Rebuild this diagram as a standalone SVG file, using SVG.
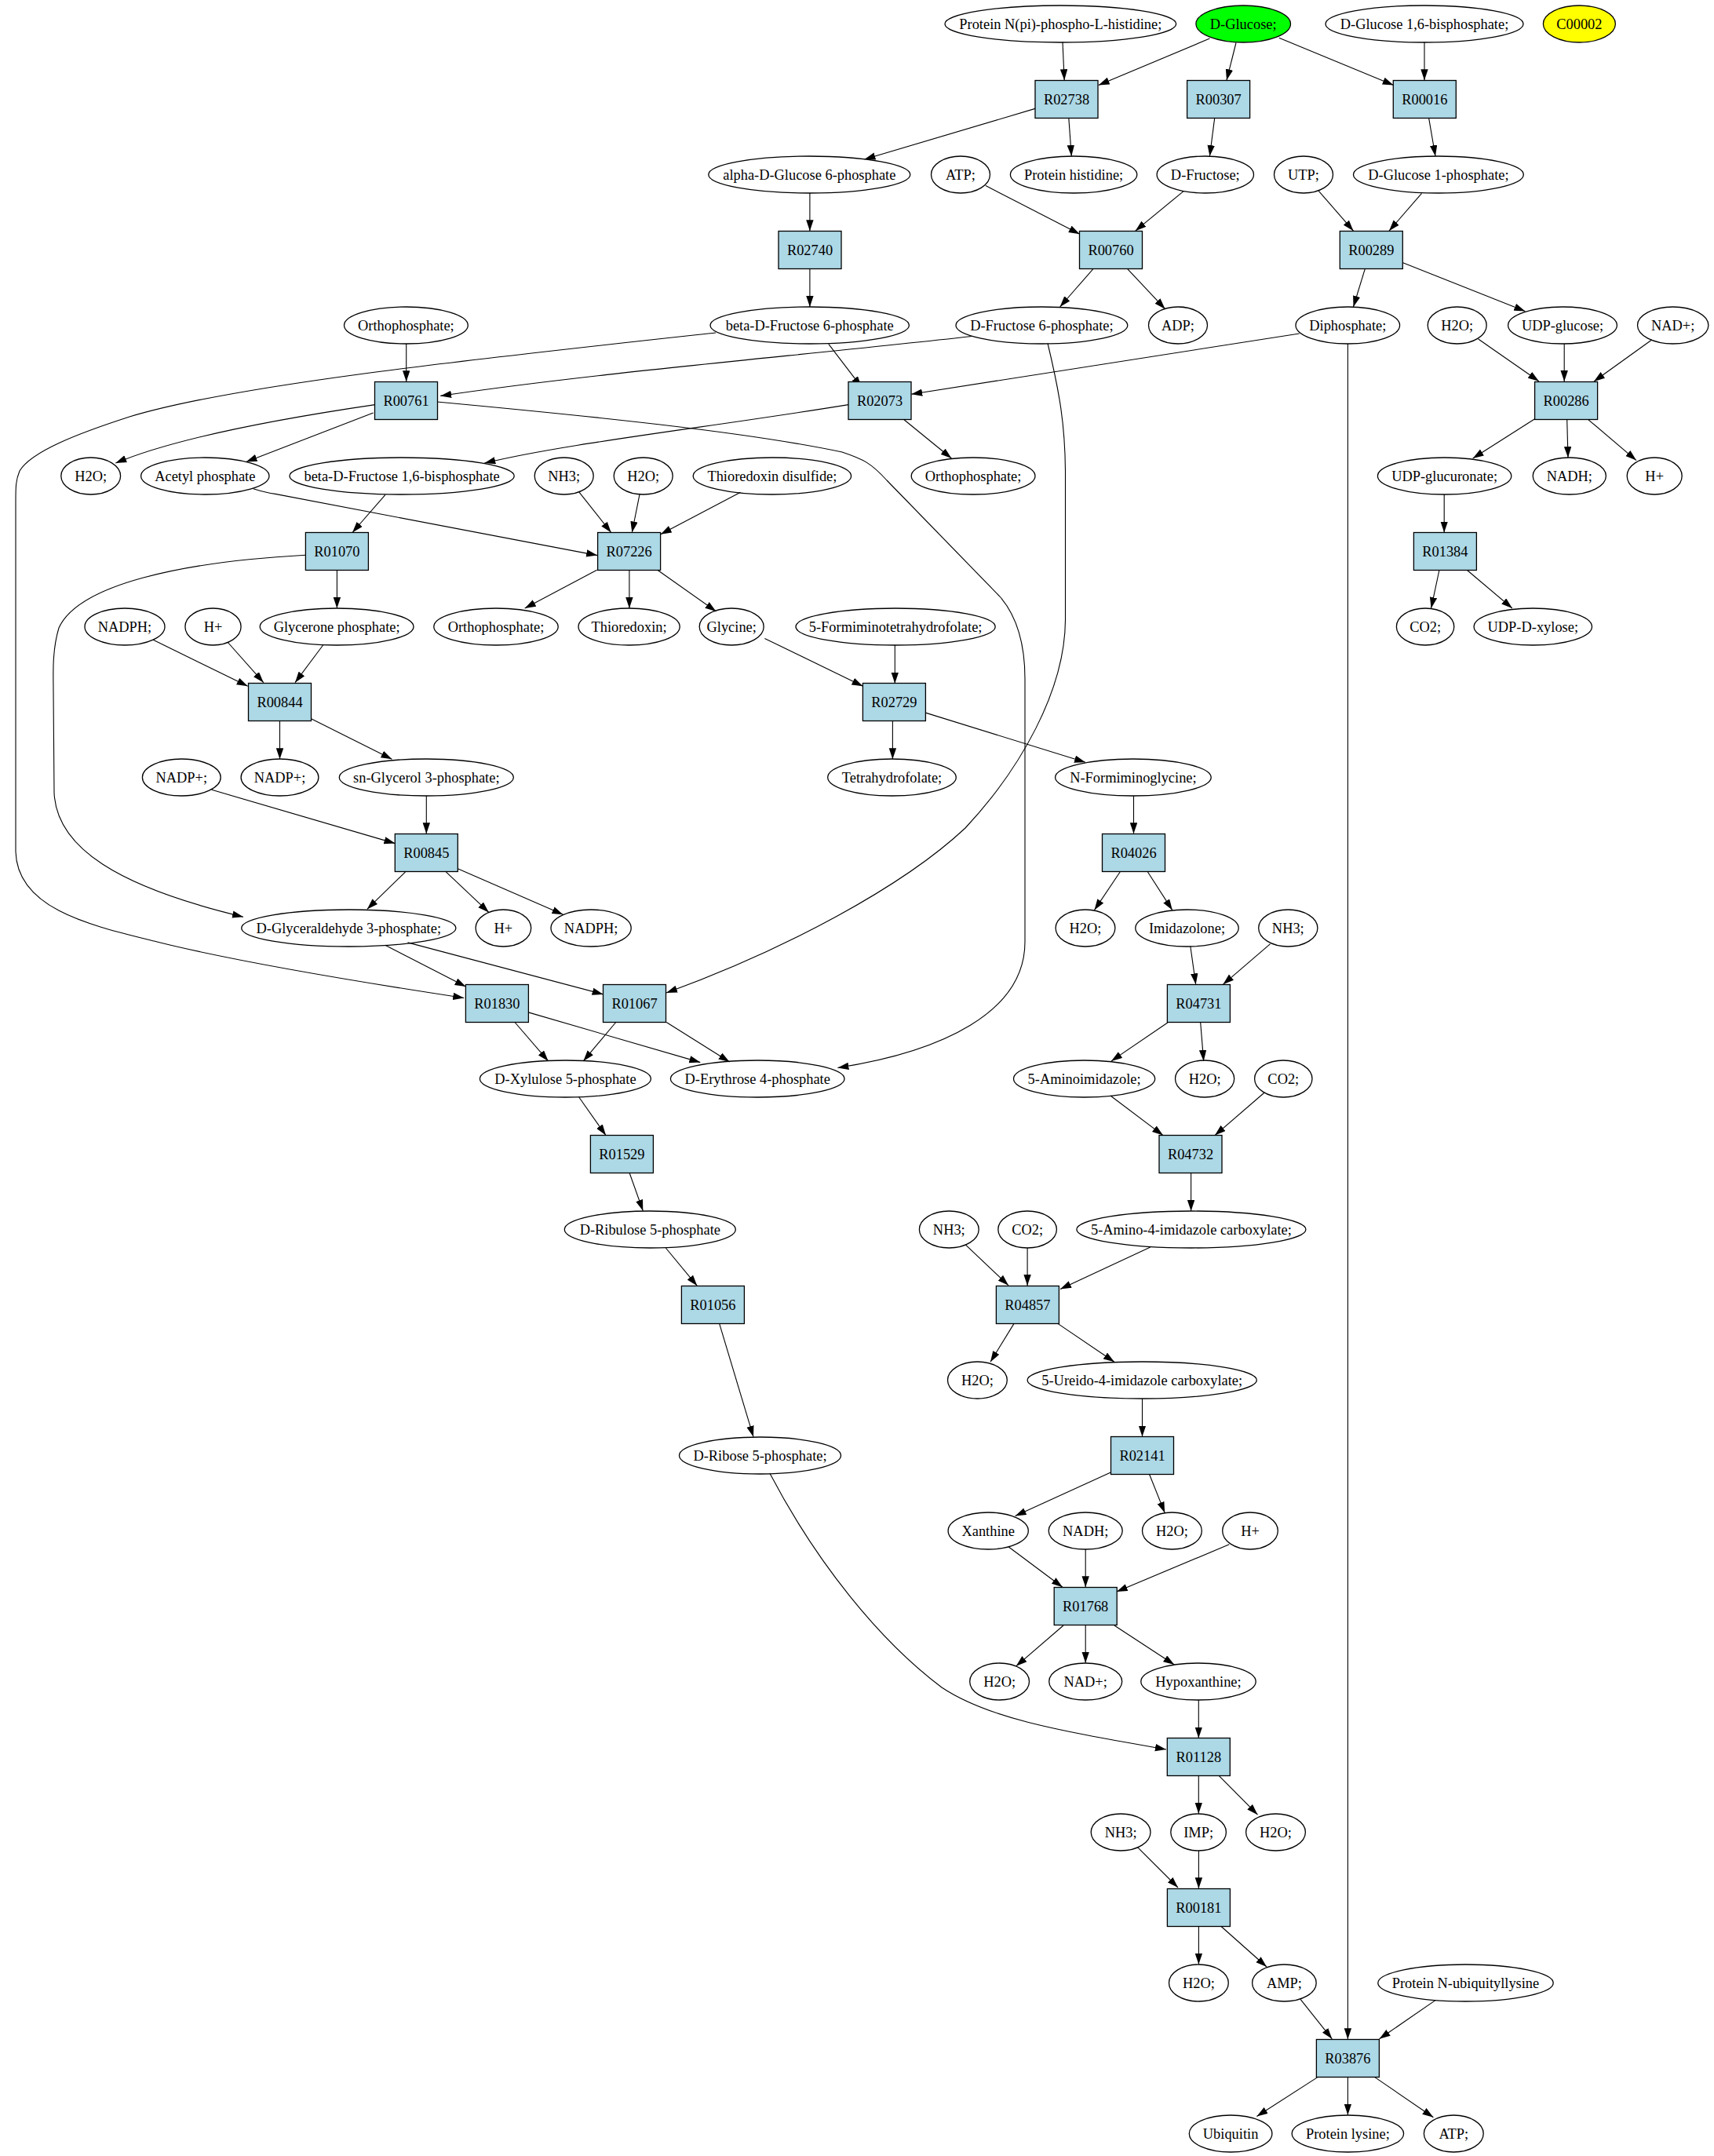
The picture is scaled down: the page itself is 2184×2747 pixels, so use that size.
<svg xmlns="http://www.w3.org/2000/svg" width="2184" height="2747" viewBox="0 0 2184 2747">
<defs>
<marker id="ah" markerUnits="userSpaceOnUse" markerWidth="15" markerHeight="10" refX="14" refY="4.7" orient="auto"><path d="M0,0 L14,4.7 L0,9.4 Z" fill="#000"/></marker>
<style>
.e{fill:none;stroke:#000;stroke-width:1.3}
.b{fill:#add8e6;stroke:#000;stroke-width:1.3}
text{font-family:"Liberation Serif","Times New Roman",serif;font-size:18.4px;text-anchor:middle;fill:#000}
#edges path{fill:none;stroke:#000;stroke-width:1.1;marker-end:url(#ah)}
</style>
</defs>
<rect width="2184" height="2747" fill="#fff"/>
<g id="edges">
<path d="M1354,53.6 L1356.2,102.2"/>
<path d="M1541.4,49.1 L1399.7,108.5"/>
<path d="M1575,54.5 L1563,102.2"/>
<path d="M1629.8,48.2 L1775.7,108.5"/>
<path d="M1815,53.6 L1815,102.2"/>
<path d="M1319,138.4 L1101.5,203"/>
<path d="M1361.8,150.4 L1365.3,199"/>
<path d="M1547.7,150.4 L1541.4,199"/>
<path d="M1820.6,150.4 L1829,199"/>
<path d="M1031.9,246 L1031.9,294.2"/>
<path d="M1255.9,236.6 L1375.8,298.2"/>
<path d="M1508.4,243.3 L1446.7,294.2"/>
<path d="M1680.3,243.3 L1724.5,294.2"/>
<path d="M1811.5,246.4 L1770,294.2"/>
<path d="M1031.9,342.8 L1031.9,391"/>
<path d="M1392.7,342.8 L1350.6,391"/>
<path d="M1436.9,342.8 L1484.6,393.7"/>
<path d="M1739.2,342.8 L1724.5,391"/>
<path d="M1787.6,334.8 L1943.3,396.4"/>
<path d="M517.7,438 L517.7,486.3"/>
<path d="M1055.8,438.4 L1097.8,493.3"/>
<path d="M1238.3,428.5 C1000,455 760,475 561.2,504.4"/>
<path d="M1655.7,425 L1161.2,502.2"/>
<path d="M1717.4,438 L1717.4,2598.3"/>
<path d="M1883.7,432 L1960.9,485.7"/>
<path d="M1993.2,438 L1993.2,486"/>
<path d="M2104.7,433 L2031,486"/>
<path d="M1956,533.5 L1876.7,584"/>
<path d="M1996.7,534.5 L1998,583"/>
<path d="M2024,534.8 L2085,586.6"/>
<path d="M1840.2,630 L1840.2,678.5"/>
<path d="M1152,534.8 L1212.4,584"/>
<path d="M477.7,515.6 C380,530 230,555 147.3,590.1"/>
<path d="M475.6,525.9 L313.6,588.4"/>
<path d="M557,512 C750,530 950,550 1073,576 C1100,585 1110,590 1130,612 L1274,760 C1300,790 1306,830 1306,865 L1306,1200 C1306,1290 1200,1340 1067.4,1360.5"/>
<path d="M1081,515.6 C900,545 720,565 617.3,590.1"/>
<path d="M491,630.3 L449,678.5"/>
<path d="M322.7,622.7 Q340,628 350.8,629.4 L761.1,707.6"/>
<path d="M738,627.2 L778.7,678.5"/>
<path d="M815.1,629.4 L805.3,678.5"/>
<path d="M943.5,627.2 L841.8,680.8"/>
<path d="M912,424 C600,458 300,490 165,531 C100,552 40,575 25,600 C20,612 20,620 20,640 L20,1085 C22,1160 120,1180 200,1200 C300,1225 450,1250 591.2,1271.5"/>
<path d="M429.4,726.5 L429.4,775"/>
<path d="M389.2,707.2 C230,716 100,745 75,800 C66,830 68,860 68,880 L69,1010 C72,1080 150,1130 310,1168.2"/>
<path d="M760.6,726.2 L668.7,775"/>
<path d="M801.9,726.5 L801.9,775"/>
<path d="M837.8,726.2 L912.4,779"/>
<path d="M195.2,815.2 L315.7,874.3"/>
<path d="M289.9,818 L335.8,869.7"/>
<path d="M411.6,822 L376,869.7"/>
<path d="M356.5,918.5 L356.5,967.3"/>
<path d="M396,915.6 L499.4,967.3"/>
<path d="M269.8,1006.3 L503.4,1074.6"/>
<path d="M543.3,1014 L543.3,1062.3"/>
<path d="M516.6,1110.8 L467.8,1158.4"/>
<path d="M568.3,1110.8 L622.8,1162.4"/>
<path d="M583.2,1106.8 L717.5,1165.3"/>
<path d="M974.4,813.4 L1099.5,874.3"/>
<path d="M1140.3,822 L1140.3,870.8"/>
<path d="M1137.4,918.5 L1137.4,967.3"/>
<path d="M1179.3,908.1 L1383,971.3"/>
<path d="M1444.5,1014 L1444.5,1062.3"/>
<path d="M1427.3,1110.8 L1394.5,1159.6"/>
<path d="M1462.3,1110.8 L1493.8,1159.6"/>
<path d="M1516.8,1205.5 L1523.7,1254.3"/>
<path d="M1618.6,1202.6 L1558.4,1254.3"/>
<path d="M1833.9,726.5 L1823.6,775"/>
<path d="M1869.5,726.5 L1926.9,775"/>
<path d="M490.8,1204.3 L593.5,1257.1"/>
<path d="M519.5,1200.9 L768.6,1266.9"/>
<path d="M1335,437.5 C1350,500 1357,540 1357.5,600 L1357.5,790 C1357,880 1300,980 1230,1055 C1150,1130 1000,1210 849,1265"/>
<path d="M656,1302.5 L698.6,1351.9"/>
<path d="M673.3,1289.9 L892.3,1353.6"/>
<path d="M784.7,1302.5 L743.3,1351.9"/>
<path d="M849.2,1302.5 L929.6,1353"/>
<path d="M1487.8,1303 L1416,1351.9"/>
<path d="M1529.7,1303 L1533.7,1351.9"/>
<path d="M737.6,1397.8 L772,1446.6"/>
<path d="M1414.9,1396 L1482,1446.6"/>
<path d="M1611.2,1392 L1548,1446.6"/>
<path d="M802.3,1495 L819.3,1542.7"/>
<path d="M1517.6,1494.5 L1517.6,1543"/>
<path d="M848.3,1590 L888.3,1638.3"/>
<path d="M1230.5,1586.1 L1285,1637.8"/>
<path d="M1309.1,1590 L1309.1,1638"/>
<path d="M1465.8,1589 L1351,1642.4"/>
<path d="M916.7,1686.7 L960,1830.7"/>
<path d="M1291.9,1686.6 L1262,1735.3"/>
<path d="M1348.2,1686.6 L1419.9,1735.3"/>
<path d="M1455.5,1782 L1455.5,1830.5"/>
<path d="M1415.3,1876 L1293.6,1931.6"/>
<path d="M1464.7,1878.8 L1484.2,1927.6"/>
<path d="M1285,1970.7 L1353.9,2022.3"/>
<path d="M1383.2,1974 L1383.2,2022.3"/>
<path d="M1566.3,1967.8 L1422.8,2028"/>
<path d="M1355,2071 L1294.8,2122.8"/>
<path d="M1383.2,2071 L1383.2,2118.8"/>
<path d="M1419.9,2071 L1496.3,2121"/>
<path d="M1527.3,2166 L1527.3,2214.5"/>
<path d="M980.8,1877.1 C1040,1990 1120,2090 1200,2150 C1260,2190 1350,2205 1485.9,2229"/>
<path d="M1527.3,2262.5 L1527.3,2310.8"/>
<path d="M1553.1,2262.3 L1602.5,2312.2"/>
<path d="M1449.3,2353.3 L1501,2405"/>
<path d="M1527.4,2358 L1527.4,2406.3"/>
<path d="M1527.4,2454.5 L1527.4,2502.8"/>
<path d="M1555.5,2454 L1614,2506"/>
<path d="M1657.1,2547.3 L1697.3,2597.8"/>
<path d="M1829.3,2548.4 L1757.6,2597.8"/>
<path d="M1678.9,2646.6 L1601.4,2696.5"/>
<path d="M1717.4,2646.6 L1717.4,2694.7"/>
<path d="M1751.8,2646.6 L1826.4,2697.7"/>
</g>
<g id="n_protnpi"><ellipse class="e" cx="1351.3" cy="30.5" rx="147.3" ry="23.5"/><text x="1351.3" y="37">Protein N(pi)-phospho-L-histidine;</text></g>
<g id="n_dglucose"><ellipse class="e" cx="1584.2" cy="30.5" rx="60.3" ry="23.5" style="fill:#00ff00"/><text x="1584.2" y="37">D-Glucose;</text></g>
<g id="n_dg16bp"><ellipse class="e" cx="1815" cy="30.5" rx="126" ry="23.5"/><text x="1815" y="37">D-Glucose 1,6-bisphosphate;</text></g>
<g id="n_c00002"><ellipse class="e" cx="2012.4" cy="30.5" rx="46" ry="23.5" style="fill:#ffff00"/><text x="2012.4" y="37">C00002</text></g>
<g id="r_R02738"><rect class="b" x="1319" y="102.5" width="80" height="48"/><text x="1359" y="133">R02738</text></g>
<g id="r_R00307"><rect class="b" x="1512.6" y="102.5" width="80" height="48"/><text x="1552.6" y="133">R00307</text></g>
<g id="r_R00016"><rect class="b" x="1775.3" y="102.5" width="80" height="48"/><text x="1815.3" y="133">R00016</text></g>
<g id="n_ag6p"><ellipse class="e" cx="1031.3" cy="222.5" rx="128.5" ry="23.5"/><text x="1031.3" y="229">alpha-D-Glucose 6-phosphate</text></g>
<g id="n_atp1"><ellipse class="e" cx="1224" cy="222.5" rx="37.5" ry="23.5"/><text x="1224" y="229">ATP;</text></g>
<g id="n_prothis"><ellipse class="e" cx="1368.1" cy="222.5" rx="80.7" ry="23.5"/><text x="1368.1" y="229">Protein histidine;</text></g>
<g id="n_dfru"><ellipse class="e" cx="1535.8" cy="222.5" rx="61.7" ry="23.5"/><text x="1535.8" y="229">D-Fructose;</text></g>
<g id="n_utp"><ellipse class="e" cx="1661" cy="222.5" rx="37.5" ry="23.5"/><text x="1661" y="229">UTP;</text></g>
<g id="n_dg1p"><ellipse class="e" cx="1832.9" cy="222.5" rx="108.4" ry="23.5"/><text x="1832.9" y="229">D-Glucose 1-phosphate;</text></g>
<g id="r_R02740"><rect class="b" x="992" y="294.5" width="80" height="48"/><text x="1032" y="325">R02740</text></g>
<g id="r_R00760"><rect class="b" x="1375.5" y="294.5" width="80" height="48"/><text x="1415.5" y="325">R00760</text></g>
<g id="r_R00289"><rect class="b" x="1707.3" y="294.5" width="80" height="48"/><text x="1747.3" y="325">R00289</text></g>
<g id="n_orth1"><ellipse class="e" cx="517.4" cy="414.5" rx="78.9" ry="23.5"/><text x="517.4" y="421">Orthophosphate;</text></g>
<g id="n_bf6p"><ellipse class="e" cx="1031.7" cy="414.5" rx="126.7" ry="23.5"/><text x="1031.7" y="421">beta-D-Fructose 6-phosphate</text></g>
<g id="n_df6p"><ellipse class="e" cx="1327.4" cy="414.5" rx="109.4" ry="23.5"/><text x="1327.4" y="421">D-Fructose 6-phosphate;</text></g>
<g id="n_adp"><ellipse class="e" cx="1501" cy="414.5" rx="37.5" ry="23.5"/><text x="1501" y="421">ADP;</text></g>
<g id="n_diph"><ellipse class="e" cx="1717.3" cy="414.5" rx="66.3" ry="23.5"/><text x="1717.3" y="421">Diphosphate;</text></g>
<g id="n_h2o1"><ellipse class="e" cx="1856.7" cy="414.5" rx="37.5" ry="23.5"/><text x="1856.7" y="421">H2O;</text></g>
<g id="n_udpg"><ellipse class="e" cx="1991" cy="414.5" rx="69.4" ry="23.5"/><text x="1991" y="421">UDP-glucose;</text></g>
<g id="n_nad1"><ellipse class="e" cx="2131.7" cy="414.5" rx="45.2" ry="23.5"/><text x="2131.7" y="421">NAD+;</text></g>
<g id="r_R00761"><rect class="b" x="477.5" y="486.5" width="80" height="48"/><text x="517.5" y="517">R00761</text></g>
<g id="r_R02073"><rect class="b" x="1081" y="486.5" width="80" height="48"/><text x="1121" y="517">R02073</text></g>
<g id="r_R00286"><rect class="b" x="1955.6" y="486.5" width="80" height="48"/><text x="1995.6" y="517">R00286</text></g>
<g id="n_h2o2"><ellipse class="e" cx="115.7" cy="606.5" rx="37.9" ry="23.5"/><text x="115.7" y="613">H2O;</text></g>
<g id="n_acp"><ellipse class="e" cx="261.3" cy="606.5" rx="81.7" ry="23.5"/><text x="261.3" y="613">Acetyl phosphate</text></g>
<g id="n_bf16bp"><ellipse class="e" cx="512.1" cy="606.5" rx="143.1" ry="23.5"/><text x="512.1" y="613">beta-D-Fructose 1,6-bisphosphate</text></g>
<g id="n_nh3_1"><ellipse class="e" cx="718.7" cy="606.5" rx="37.5" ry="23.5"/><text x="718.7" y="613">NH3;</text></g>
<g id="n_h2o3"><ellipse class="e" cx="819.7" cy="606.5" rx="37.5" ry="23.5"/><text x="819.7" y="613">H2O;</text></g>
<g id="n_trxss"><ellipse class="e" cx="983.9" cy="606.5" rx="100.7" ry="23.5"/><text x="983.9" y="613">Thioredoxin disulfide;</text></g>
<g id="n_orth2"><ellipse class="e" cx="1240.1" cy="606.5" rx="78.9" ry="23.5"/><text x="1240.1" y="613">Orthophosphate;</text></g>
<g id="n_udpglcA"><ellipse class="e" cx="1840.6" cy="606.5" rx="85.2" ry="23.5"/><text x="1840.6" y="613">UDP-glucuronate;</text></g>
<g id="n_nadh1"><ellipse class="e" cx="1999.8" cy="606.5" rx="46.6" ry="23.5"/><text x="1999.8" y="613">NADH;</text></g>
<g id="n_hplus1"><ellipse class="e" cx="2108.2" cy="606.5" rx="35" ry="23.5"/><text x="2108.2" y="613">H+</text></g>
<g id="r_R01070"><rect class="b" x="389.4" y="678.5" width="80" height="48"/><text x="429.4" y="709">R01070</text></g>
<g id="r_R07226"><rect class="b" x="761.6" y="678.5" width="80" height="48"/><text x="801.6" y="709">R07226</text></g>
<g id="r_R01384"><rect class="b" x="1801.4" y="678.5" width="80" height="48"/><text x="1841.4" y="709">R01384</text></g>
<g id="n_nadph1"><ellipse class="e" cx="159" cy="798.5" rx="51" ry="23.5"/><text x="159" y="805">NADPH;</text></g>
<g id="n_hplus2"><ellipse class="e" cx="271.5" cy="798.5" rx="35.6" ry="23.5"/><text x="271.5" y="805">H+</text></g>
<g id="n_dhap"><ellipse class="e" cx="429.1" cy="798.5" rx="97.9" ry="23.5"/><text x="429.1" y="805">Glycerone phosphate;</text></g>
<g id="n_orth3"><ellipse class="e" cx="632" cy="798.5" rx="79.2" ry="23.5"/><text x="632" y="805">Orthophosphate;</text></g>
<g id="n_trx"><ellipse class="e" cx="801.6" cy="798.5" rx="64.6" ry="23.5"/><text x="801.6" y="805">Thioredoxin;</text></g>
<g id="n_gly"><ellipse class="e" cx="932.2" cy="798.5" rx="41" ry="23.5"/><text x="932.2" y="805">Glycine;</text></g>
<g id="n_5fthf"><ellipse class="e" cx="1141.1" cy="798.5" rx="127.1" ry="23.5"/><text x="1141.1" y="805">5-Formiminotetrahydrofolate;</text></g>
<g id="n_co2_1"><ellipse class="e" cx="1816.1" cy="798.5" rx="36.7" ry="23.5"/><text x="1816.1" y="805">CO2;</text></g>
<g id="n_udpxyl"><ellipse class="e" cx="1953.3" cy="798.5" rx="75.2" ry="23.5"/><text x="1953.3" y="805">UDP-D-xylose;</text></g>
<g id="r_R00844"><rect class="b" x="316.5" y="870.5" width="80" height="48"/><text x="356.5" y="901">R00844</text></g>
<g id="r_R02729"><rect class="b" x="1099.4" y="870.5" width="80" height="48"/><text x="1139.4" y="901">R02729</text></g>
<g id="n_nadp1"><ellipse class="e" cx="231.3" cy="990.5" rx="49.9" ry="23.5"/><text x="231.3" y="997">NADP+;</text></g>
<g id="n_nadp2"><ellipse class="e" cx="356.5" cy="990.5" rx="49.4" ry="23.5"/><text x="356.5" y="997">NADP+;</text></g>
<g id="n_g3p"><ellipse class="e" cx="543.3" cy="990.5" rx="111" ry="23.5"/><text x="543.3" y="997">sn-Glycerol 3-phosphate;</text></g>
<g id="n_thf"><ellipse class="e" cx="1136.5" cy="990.5" rx="81.8" ry="23.5"/><text x="1136.5" y="997">Tetrahydrofolate;</text></g>
<g id="n_fig"><ellipse class="e" cx="1443.9" cy="990.5" rx="99.3" ry="23.5"/><text x="1443.9" y="997">N-Formiminoglycine;</text></g>
<g id="r_R00845"><rect class="b" x="503.3" y="1062.5" width="80" height="48"/><text x="543.3" y="1093">R00845</text></g>
<g id="r_R04026"><rect class="b" x="1404.5" y="1062.5" width="80" height="48"/><text x="1444.5" y="1093">R04026</text></g>
<g id="n_gap"><ellipse class="e" cx="444.3" cy="1182.5" rx="136.6" ry="23.5"/><text x="444.3" y="1189">D-Glyceraldehyde 3-phosphate;</text></g>
<g id="n_hplus3"><ellipse class="e" cx="641.4" cy="1182.5" rx="35.3" ry="23.5"/><text x="641.4" y="1189">H+</text></g>
<g id="n_nadph2"><ellipse class="e" cx="753.1" cy="1182.5" rx="51.1" ry="23.5"/><text x="753.1" y="1189">NADPH;</text></g>
<g id="n_h2o4"><ellipse class="e" cx="1383" cy="1182.5" rx="37.9" ry="23.5"/><text x="1383" y="1189">H2O;</text></g>
<g id="n_imz"><ellipse class="e" cx="1512.5" cy="1182.5" rx="65.7" ry="23.5"/><text x="1512.5" y="1189">Imidazolone;</text></g>
<g id="n_nh3_2"><ellipse class="e" cx="1641.3" cy="1182.5" rx="37.6" ry="23.5"/><text x="1641.3" y="1189">NH3;</text></g>
<g id="r_R01830"><rect class="b" x="593.4" y="1254.5" width="80" height="48"/><text x="633.4" y="1285">R01830</text></g>
<g id="r_R01067"><rect class="b" x="768.5" y="1254.5" width="80" height="48"/><text x="808.5" y="1285">R01067</text></g>
<g id="r_R04731"><rect class="b" x="1487.4" y="1254.5" width="80" height="48"/><text x="1527.4" y="1285">R04731</text></g>
<g id="n_xu5p"><ellipse class="e" cx="720.4" cy="1374.5" rx="109" ry="23.5"/><text x="720.4" y="1381">D-Xylulose 5-phosphate</text></g>
<g id="n_e4p"><ellipse class="e" cx="965.2" cy="1374.5" rx="110.8" ry="23.5"/><text x="965.2" y="1381">D-Erythrose 4-phosphate</text></g>
<g id="n_aim"><ellipse class="e" cx="1381.6" cy="1374.5" rx="90.1" ry="23.5"/><text x="1381.6" y="1381">5-Aminoimidazole;</text></g>
<g id="n_h2o5"><ellipse class="e" cx="1535.1" cy="1374.5" rx="37.6" ry="23.5"/><text x="1535.1" y="1381">H2O;</text></g>
<g id="n_co2_2"><ellipse class="e" cx="1635.3" cy="1374.5" rx="36.7" ry="23.5"/><text x="1635.3" y="1381">CO2;</text></g>
<g id="r_R01529"><rect class="b" x="752.4" y="1446.5" width="80" height="48"/><text x="792.4" y="1477">R01529</text></g>
<g id="r_R04732"><rect class="b" x="1477" y="1446.5" width="80" height="48"/><text x="1517" y="1477">R04732</text></g>
<g id="n_ru5p"><ellipse class="e" cx="828.3" cy="1566.5" rx="109" ry="23.5"/><text x="828.3" y="1573">D-Ribulose 5-phosphate</text></g>
<g id="n_nh3_3"><ellipse class="e" cx="1209.3" cy="1566.5" rx="37.9" ry="23.5"/><text x="1209.3" y="1573">NH3;</text></g>
<g id="n_co2_3"><ellipse class="e" cx="1309.1" cy="1566.5" rx="37.3" ry="23.5"/><text x="1309.1" y="1573">CO2;</text></g>
<g id="n_aica"><ellipse class="e" cx="1517.9" cy="1566.5" rx="146" ry="23.5"/><text x="1517.9" y="1573">5-Amino-4-imidazole carboxylate;</text></g>
<g id="r_R01056"><rect class="b" x="868.4" y="1638.5" width="80" height="48"/><text x="908.4" y="1669">R01056</text></g>
<g id="r_R04857"><rect class="b" x="1269.4" y="1638.5" width="80" height="48"/><text x="1309.4" y="1669">R04857</text></g>
<g id="n_h2o6"><ellipse class="e" cx="1245.4" cy="1758.5" rx="37.9" ry="23.5"/><text x="1245.4" y="1765">H2O;</text></g>
<g id="n_uica"><ellipse class="e" cx="1455.2" cy="1758.5" rx="146.1" ry="23.5"/><text x="1455.2" y="1765">5-Ureido-4-imidazole carboxylate;</text></g>
<g id="n_r5p"><ellipse class="e" cx="968.5" cy="1854.5" rx="103" ry="23.5"/><text x="968.5" y="1861">D-Ribose 5-phosphate;</text></g>
<g id="r_R02141"><rect class="b" x="1415.5" y="1830.5" width="80" height="48"/><text x="1455.5" y="1861">R02141</text></g>
<g id="n_xan"><ellipse class="e" cx="1259.2" cy="1950.5" rx="51.1" ry="23.5"/><text x="1259.2" y="1957">Xanthine</text></g>
<g id="n_nadh2"><ellipse class="e" cx="1383.2" cy="1950.5" rx="47" ry="23.5"/><text x="1383.2" y="1957">NADH;</text></g>
<g id="n_h2o7"><ellipse class="e" cx="1493.4" cy="1950.5" rx="37.9" ry="23.5"/><text x="1493.4" y="1957">H2O;</text></g>
<g id="n_hplus4"><ellipse class="e" cx="1593" cy="1950.5" rx="35.3" ry="23.5"/><text x="1593" y="1957">H+</text></g>
<g id="r_R01768"><rect class="b" x="1343.2" y="2022.5" width="80" height="48"/><text x="1383.2" y="2053">R01768</text></g>
<g id="n_h2o8"><ellipse class="e" cx="1273.6" cy="2142.5" rx="37.9" ry="23.5"/><text x="1273.6" y="2149">H2O;</text></g>
<g id="n_nad2"><ellipse class="e" cx="1383.2" cy="2142.5" rx="46.5" ry="23.5"/><text x="1383.2" y="2149">NAD+;</text></g>
<g id="n_hyp"><ellipse class="e" cx="1527" cy="2142.5" rx="73.2" ry="23.5"/><text x="1527" y="2149">Hypoxanthine;</text></g>
<g id="r_R01128"><rect class="b" x="1487.3" y="2214.5" width="80" height="48"/><text x="1527.3" y="2245">R01128</text></g>
<g id="n_nh3_4"><ellipse class="e" cx="1428.1" cy="2334.5" rx="37.9" ry="23.5"/><text x="1428.1" y="2341">NH3;</text></g>
<g id="n_imp"><ellipse class="e" cx="1527.1" cy="2334.5" rx="35.3" ry="23.5"/><text x="1527.1" y="2341">IMP;</text></g>
<g id="n_h2o9"><ellipse class="e" cx="1625.5" cy="2334.5" rx="37.9" ry="23.5"/><text x="1625.5" y="2341">H2O;</text></g>
<g id="r_R00181"><rect class="b" x="1487.4" y="2406.5" width="80" height="48"/><text x="1527.4" y="2437">R00181</text></g>
<g id="n_h2o10"><ellipse class="e" cx="1527.4" cy="2526.5" rx="37.9" ry="23.5"/><text x="1527.4" y="2533">H2O;</text></g>
<g id="n_amp"><ellipse class="e" cx="1636.4" cy="2526.5" rx="40.8" ry="23.5"/><text x="1636.4" y="2533">AMP;</text></g>
<g id="n_pnub"><ellipse class="e" cx="1867.5" cy="2526.5" rx="111.7" ry="23.5"/><text x="1867.5" y="2533">Protein N-ubiquityllysine</text></g>
<g id="r_R03876"><rect class="b" x="1677.4" y="2598.5" width="80" height="48"/><text x="1717.4" y="2629">R03876</text></g>
<g id="n_ubq"><ellipse class="e" cx="1568.1" cy="2718.5" rx="52.8" ry="23.5"/><text x="1568.1" y="2725">Ubiquitin</text></g>
<g id="n_plys"><ellipse class="e" cx="1717.4" cy="2718.5" rx="71.2" ry="23.5"/><text x="1717.4" y="2725">Protein lysine;</text></g>
<g id="n_atp2"><ellipse class="e" cx="1852.3" cy="2718.5" rx="37.9" ry="23.5"/><text x="1852.3" y="2725">ATP;</text></g>
</svg>
